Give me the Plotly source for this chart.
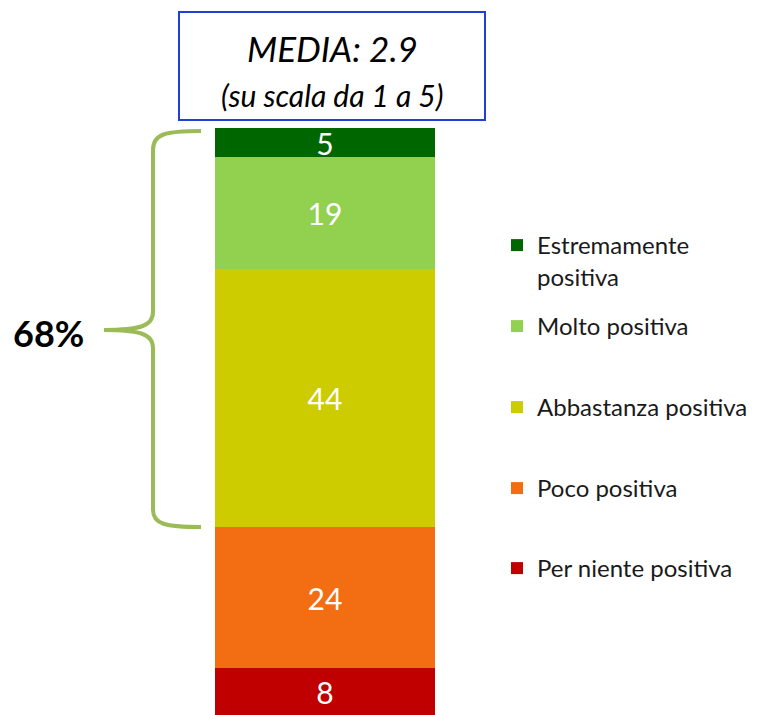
import plotly.graph_objects as go

# ---- data ----
categories = ["Per niente positiva", "Poco positiva", "Abbastanza positiva",
              "Molto positiva", "Estremamente<br>positiva"]
values = [8, 24, 44, 19, 5]
colors = ["#C00000", "#F36E12", "#CCCC00", "#92D050", "#006600"]
bar_label = ["Totale"]
media_text = "MEDIA: 2.9"
scale_text = "(su scala da 1 a 5)"
brace_text = "68%"

# page body has an 8px default margin -> figure drawn at offset (8, 8)
OFF = 8
W, H = 758 - OFF, 715 - OFF
FONT = "Lato"


def px(x):
    return (x - OFF) / W


def py(y):
    return 1 - (y - OFF) / H


# legend positions (pixel y of first-line centre) per category
legend_y = [568, 488, 407, 326, 245]

fig = go.Figure()
for i, (name, v, c) in enumerate(zip(categories, values, colors)):
    lg = "legend" if i == 0 else f"legend{i+1}"
    fig.add_trace(go.Bar(
        x=bar_label, y=[v], name=name, marker=dict(color=c, line=dict(width=0)),
        text=[str(v)], textposition="inside", insidetextanchor="middle",
        constraintext="none", textangle=0,
        textfont=dict(color="white", size=30, family=FONT),
        legend=lg, hoverinfo="skip",
    ))

layout_legends = {}
for i, ly in enumerate(legend_y):
    key = "legend" if i == 0 else f"legend{i+1}"
    layout_legends[key] = dict(
        x=px(497), xanchor="left", y=py(ly - 22), yanchor="top",
        valign="top", bgcolor="rgba(0,0,0,0)",
        font=dict(family=FONT, size=24, color="#1a1a1a"),
    )

fig.update_layout(
    width=W, height=H,
    margin=dict(l=0, r=0, t=0, b=0),
    barmode="stack", bargap=0,
    plot_bgcolor="white", paper_bgcolor="white",
    showlegend=True,
    xaxis=dict(domain=[px(215), px(435)], visible=False, fixedrange=True),
    yaxis=dict(domain=[0, py(128)], range=[0, 100], visible=False, fixedrange=True),
    **layout_legends,
)

# MEDIA box
fig.add_shape(type="rect", xref="paper", yref="paper",
              x0=px(179), x1=px(485), y0=py(12), y1=py(120),
              line=dict(color="#1F3FD6", width=2), fillcolor="white")
fig.add_annotation(xref="paper", yref="paper", x=px(332), y=py(48),
                   text=f"<i>{media_text}</i>", showarrow=False,
                   font=dict(family=FONT, size=35, color="black"),
                   xanchor="center", yanchor="middle")
fig.add_annotation(xref="paper", yref="paper", x=px(332), y=py(95),
                   text=f"<i>{scale_text}</i>", showarrow=False,
                   font=dict(family=FONT, size=30, color="black"),
                   xanchor="center", yanchor="middle")


# Brace
def P(x, y):
    return f"{px(x):.5f},{py(y):.5f}"


path = ("M " + P(201, 131) +
        " C " + P(165, 131) + " " + P(153, 134) + " " + P(153, 150) +
        " L " + P(153, 312) +
        " C " + P(153, 326) + " " + P(140, 330) + " " + P(104, 330) +
        " C " + P(140, 330) + " " + P(153, 334) + " " + P(153, 348) +
        " L " + P(153, 510) +
        " C " + P(153, 524) + " " + P(165, 527) + " " + P(201, 527))
fig.add_shape(type="path", xref="paper", yref="paper", path=path,
              line=dict(color="#9BBB59", width=4))
fig.add_annotation(xref="paper", yref="paper", x=px(48), y=py(333),
                   text=f"<b>{brace_text}</b>", showarrow=False,
                   font=dict(family=FONT, size=36, color="black"),
                   xanchor="center", yanchor="middle")

fig.write_html("out.html", config={"displayModeBar": False})
